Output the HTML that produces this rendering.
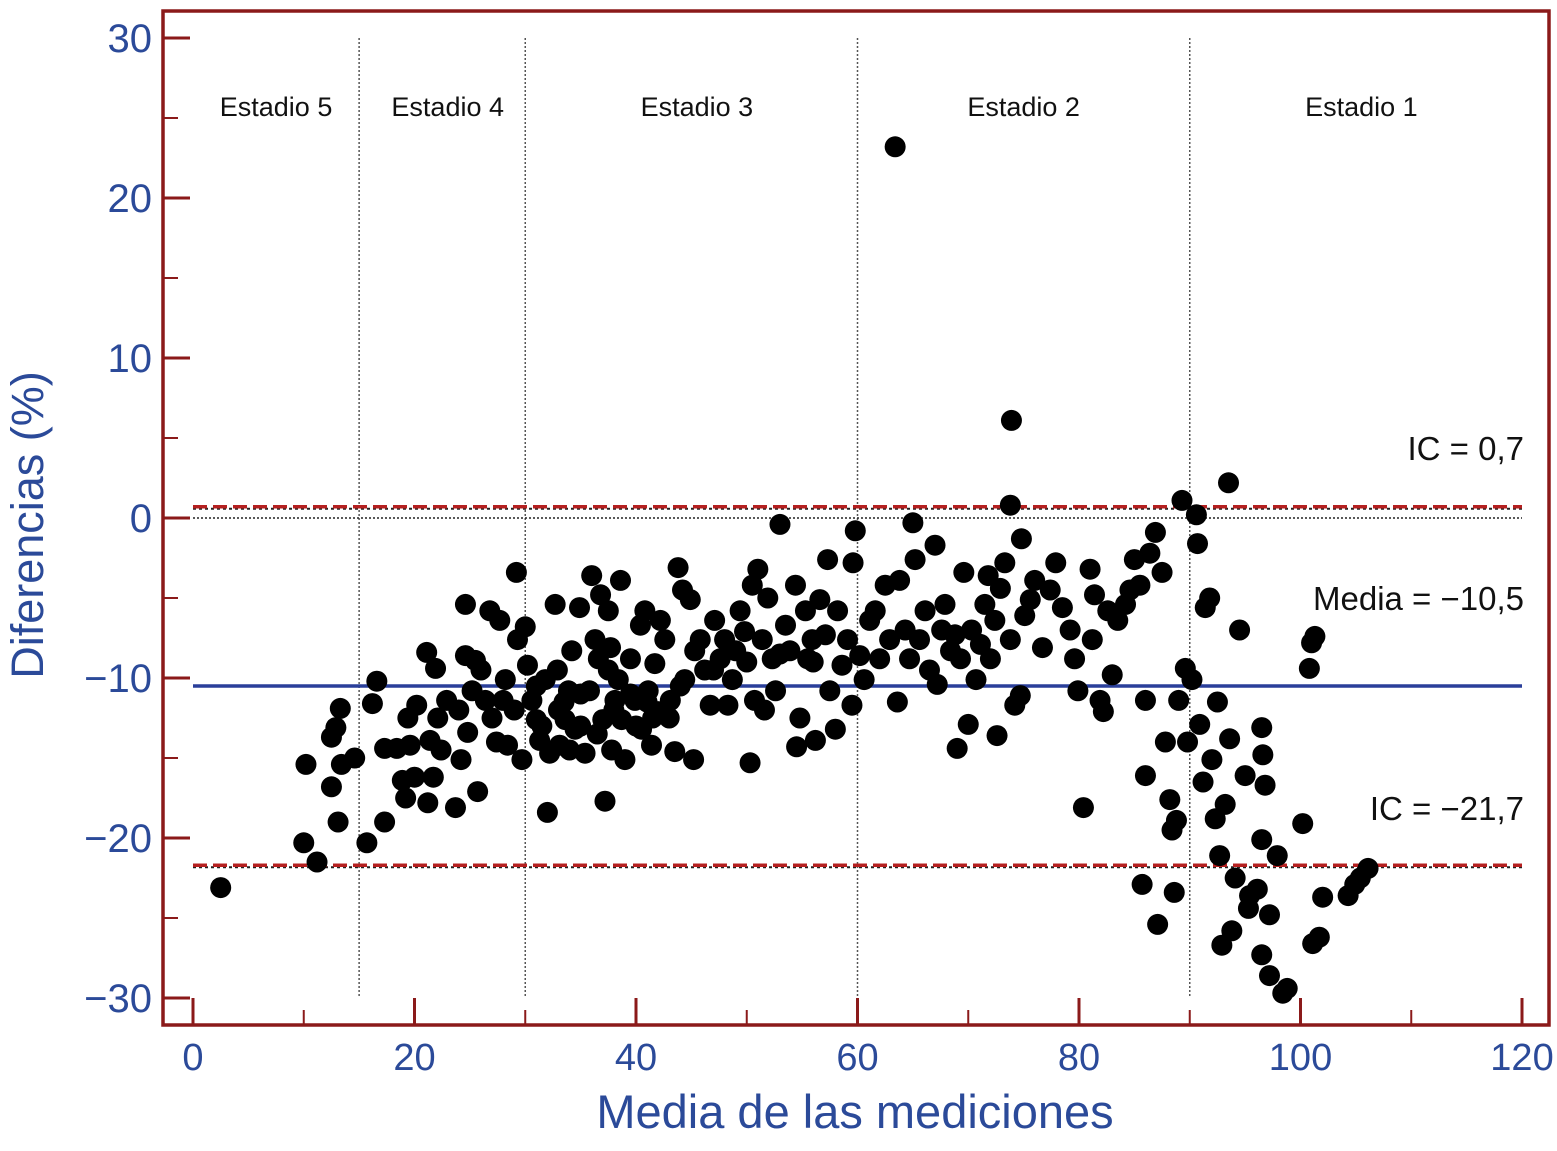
<!DOCTYPE html>
<html><head><meta charset="utf-8"><style>
body{margin:0;background:#fff}
svg{display:block;font-family:"Liberation Sans",sans-serif}
</style></head><body>
<svg id="chart" width="1557" height="1151"></svg>
<script>
const xTicks=[0,20,40,60,80,100,120];
const yTicks=[30,20,10,0,-10,-20,-30];
const yTickLabels=["30","20","10","0","\u221210","\u221220","\u221230"];
const stageBounds=[15,30,60,90];
const stageNames=["Estadio 5","Estadio 4","Estadio 3","Estadio 2","Estadio 1"];
const stageCenters=[7.5,23,45.5,75,105.5];
const meanValue=-10.5;
const upperCI=0.7;
const lowerCI=-21.7;
const ptsX=[2.5,10,10.2,11.2,12.5,12.5,12.9,13.1,13.3,13.4,14.6,15.7,16.2,16.6,17.3,17.3,18.4,18.9,19.2,19.4,19.6,20,20.2,21.1,21.2,21.4,21.7,21.9,22.1,22.4,22.9,23.7,24.2,24.6,24.6,24.8,25.2,25.5,25.7,26,26.4,26.8,27.4,27.7,28,28.2,28.4,29.2,29.3,29.7,30,30.2,30.6,31,31.3,31.8,32,32.2,32.7,32.9,33.1,33.6,33.9,34.2,34.5,34.9,35.4,35.8,36,36.3,36.6,36.8,37,37.2,37.5,37.7,37.8,38.1,38.4,38.6,38.7,39,39.5,39.9,40.4,40.5,40.8,41.1,41.4,41.7,42,42.2,42.6,43.1,43.5,43.8,44.2,44.4,44.9,45.2,45.3,45.8,46.2,46.7,47.1,47.6,48,48.3,48.7,49,49.4,49.8,50.3,50.5,50.7,51,51.4,51.6,51.9,52.3,52.6,53,53.5,53.9,54.4,54.5,54.8,55.3,55.5,55.9,56.2,56.6,57.1,57.3,57.5,58,58.2,58.6,59.1,59.5,59.8,59.6,60.2,60.6,61.1,61.6,62,62.5,62.9,63.4,63.6,63.8,64.3,64.7,65,65.2,65.6,66.1,66.5,67,67.2,67.6,67.9,68.4,68.8,69,69.3,69.6,70,70.3,70.7,71.1,71.5,71.8,72,72.4,72.6,72.9,73.3,73.8,73.9,73.8,74.2,74.7,74.8,75.1,75.6,76,76.7,77.4,77.9,78.5,79.2,79.6,79.9,80.4,81,81.2,81.4,81.9,82.2,82.6,83,83.5,84.2,84.6,85,85.5,85.7,86,86,86.4,86.9,87.1,87.5,87.8,88.2,88.4,88.6,88.8,89,89.3,89.6,89.8,90.2,90.6,90.7,90.9,91.2,91.4,91.8,92,92.3,92.5,92.7,92.9,93.2,93.5,93.6,93.8,94.1,94.5,95,95.3,95.4,96.1,96.5,96.6,96.5,96.8,96.5,97.2,97.2,97.9,98.4,98.8,100.2,100.8,101,101.3,101.1,101.7,102,104.3,104.9,105.4,106.1,
31.5,33,34,35,36.5,38,40,41,43,29,31,33.5,35,37.5,39.5,41.5,44,47,50,53,56,24,27];
const ptsY=[-23.1,-20.3,-15.4,-21.5,-16.8,-13.7,-13.1,-19,-11.9,-15.4,-15,-20.3,-11.6,-10.2,-19,-14.4,-14.4,-16.4,-17.5,-12.5,-14.2,-16.2,-11.7,-8.4,-17.8,-13.9,-16.2,-9.4,-12.5,-14.5,-11.4,-18.1,-15.1,-5.4,-8.6,-13.4,-10.8,-8.9,-17.1,-9.5,-11.4,-5.8,-14,-6.4,-11.4,-10.1,-14.2,-3.4,-7.6,-15.1,-6.8,-9.2,-11.4,-12.6,-13.9,-10.1,-18.4,-14.7,-5.4,-9.5,-14.2,-12.6,-10.8,-8.3,-13.2,-5.6,-14.7,-10.8,-3.6,-7.6,-8.8,-4.8,-12.6,-17.7,-5.8,-8.1,-14.5,-11.4,-10.1,-3.9,-12.6,-15.1,-8.8,-11.4,-6.7,-13.2,-5.8,-10.8,-14.2,-9.1,-12.1,-6.4,-7.6,-11.4,-14.6,-3.1,-4.5,-10.1,-5.1,-15.1,-8.3,-7.6,-9.5,-11.7,-6.4,-8.8,-7.6,-11.7,-10.1,-8.3,-5.8,-7.1,-15.3,-4.2,-11.4,-3.2,-7.6,-12,-5,-8.8,-10.8,-0.4,-6.7,-8.3,-4.2,-14.3,-12.5,-5.8,-8.8,-7.6,-13.9,-5.1,-7.3,-2.6,-10.8,-13.2,-5.8,-9.2,-7.6,-11.7,-0.8,-2.8,-8.6,-10.1,-6.4,-5.8,-8.8,-4.2,-7.6,23.2,-11.5,-3.9,-7,-8.8,-0.3,-2.6,-7.6,-5.8,-9.5,-1.7,-10.4,-7,-5.4,-8.3,-7.3,-14.4,-8.8,-3.4,-12.9,-7,-10.1,-7.9,-5.4,-3.6,-8.8,-6.4,-13.6,-4.4,-2.8,-7.6,6.1,0.8,-11.7,-11.1,-1.3,-6.1,-5.1,-3.9,-8.1,-4.5,-2.8,-5.6,-7,-8.8,-10.8,-18.1,-3.2,-7.6,-4.8,-11.4,-12.1,-5.8,-9.8,-6.4,-5.4,-4.5,-2.6,-4.2,-22.9,-11.4,-16.1,-2.2,-0.9,-25.4,-3.4,-14,-17.6,-19.5,-23.4,-18.9,-11.4,1.1,-9.4,-14,-10.1,0.2,-1.6,-12.9,-16.5,-5.6,-5,-15.1,-18.8,-11.5,-21.1,-26.7,-17.9,2.2,-13.8,-25.8,-22.5,-7,-16.1,-24.4,-23.6,-23.2,-13.1,-14.8,-20.1,-16.7,-27.3,-24.8,-28.6,-21.1,-29.7,-29.4,-19.1,-9.4,-7.8,-7.4,-26.6,-26.2,-23.7,-23.6,-22.9,-22.5,-21.9,
-13,-12,-14.5,-11,-13.5,-12,-13,-11.5,-12.5,-12,-10.5,-11.5,-13,-9.5,-11,-12.5,-10.5,-9.5,-9,-8.5,-9,-12,-12.5];

const NS="http://www.w3.org/2000/svg";
const svg=document.getElementById('chart');
const X=v=>193+v*(1522-193)/120;
const Y=v=>518-v*16;
function mk(tag,attrs,parent){const e=document.createElementNS(NS,tag);for(const k in attrs)e.setAttribute(k,attrs[k]);(parent||svg).appendChild(e);return e;}
const blue="#2b4a99";

let e=mk('rect',{x:163,y:11,width:1386,height:1014,fill:'none',stroke:'#8b1a1a','stroke-width':3.5});



yTicks.forEach((v,i)=>{
  let t=mk('line',{x1:163,x2:190,y1:Y(v),y2:Y(v),stroke:'#8b1a1a','stroke-width':3});
  
  
  let l=mk('text',{x:152,y:Y(v)+14,'text-anchor':'end','font-size':40,fill:blue});
  l.textContent=yTickLabels[i];
  
  
  if(v>-30){let m=mk('line',{x1:163,x2:178,y1:Y(v-5),y2:Y(v-5),stroke:'#8b1a1a','stroke-width':2});
  
  }
});
xTicks.forEach((v,i)=>{
  let t=mk('line',{x1:X(v),x2:X(v),y1:1025,y2:998,stroke:'#8b1a1a','stroke-width':3});
  
  
  let l=mk('text',{x:X(v),y:1070,'text-anchor':'middle','font-size':38,fill:blue});
  l.textContent=String(v);
  
  
  if(v<120){let m=mk('line',{x1:X(v+10),x2:X(v+10),y1:1025,y2:1010,stroke:'#8b1a1a','stroke-width':2});
  
  }
});

stageBounds.forEach(v=>{
  let l=mk('line',{x1:X(v),x2:X(v),y1:Y(30),y2:Y(-30),stroke:'#555','stroke-width':1.5,'stroke-dasharray':'2,2'});
  
  
});
stageNames.forEach((n,i)=>{
  let t=mk('text',{x:X(stageCenters[i]),y:116,'text-anchor':'middle','font-size':27,fill:'#111'});
  t.textContent=n;
  
  
});

e=mk('line',{x1:X(0),x2:X(120),y1:Y(0),y2:Y(0),stroke:'#222','stroke-width':1.5,'stroke-dasharray':'2,2'});



[upperCI,lowerCI].forEach(v=>{
  let b=mk('line',{x1:X(0),x2:X(120),y1:Y(v)+2,y2:Y(v)+2,stroke:'#222','stroke-width':2,'stroke-dasharray':'3,3'});
  
  
  let l=mk('line',{x1:X(0),x2:X(120),y1:Y(v),y2:Y(v),stroke:'#b52020','stroke-width':3.5,'stroke-dasharray':'14,6'});
  
  
});
e=mk('line',{x1:X(0),x2:X(120),y1:Y(meanValue),y2:Y(meanValue),stroke:'#2a3f9a','stroke-width':3.5});



for(let i=0;i<ptsX.length;i++){
  let c=mk('circle',{cx:X(ptsX[i]),cy:Y(ptsY[i]),r:10.5,fill:'#000'});
  
  
}

[["IC = 0,7",460],["Media = \u221210,5",610],["IC = \u221221,7",820]].forEach(a=>{
  let t=mk('text',{x:1524,y:a[1],'text-anchor':'end','font-size':33,fill:'#111'});
  t.textContent=a[0];
  
  
});

e=mk('text',{x:855,y:1128,'text-anchor':'middle','font-size':47,fill:blue});
e.textContent="Media de las mediciones";


e=mk('text',{x:0,y:0,'text-anchor':'middle','font-size':45,fill:blue,transform:'translate(43,525) rotate(-90)'});
e.textContent="Diferencias (%)";


</script>
</body></html>
